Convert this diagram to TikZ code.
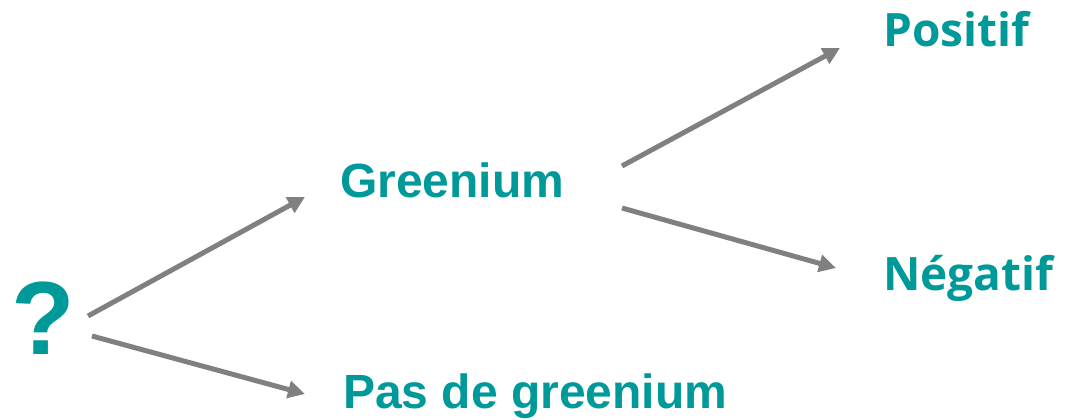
\documentclass[tikz,border=0pt]{standalone}
\usepackage{fontspec}
\setmainfont{Liberation Sans}
\newfontfamily\labfont{Open Sans}
\usetikzlibrary{arrows.meta}
\definecolor{teal}{RGB}{0,153,153}
\definecolor{arrgray}{RGB}{128,128,128}
\tikzset{
  lab/.style={inner sep=0pt, anchor=base west, text=teal, font=\fontsize{48}{52}\selectfont\bfseries},
  res/.style={inner sep=0pt, anchor=base west, text=teal, font=\labfont\fontsize{46}{50}\selectfont\bfseries},
  arr/.style={draw=arrgray, line width=5pt, -{Triangle[length=17pt,width=17pt]}}
}
\begin{document}
\begin{tikzpicture}[x=1pt,y=-1pt]
\useasboundingbox (0,0) rectangle (1081,420);
% labels
\node[lab, font=\fontsize{104}{108}\selectfont\bfseries] (q) at (11,354) {?};
\node[lab] (g) at (340,197) {Greenium};
\node[lab] (p) at (343,408) {Pas de greenium};
\node[res] (pos) at (883,47) {Positif};
\node[res] (neg) at (883,290) {Négatif};
% connector ends
\coordinate (q1) at (88,316);
\coordinate (q2) at (92,336);
\coordinate (g1) at (622,166);
\coordinate (g2) at (622,208);
\coordinate (gin) at (305,197);
\coordinate (pin) at (305,394);
\coordinate (posin) at (840,48);
\coordinate (negin) at (836,268);
% connectors
\draw[arr] (q1) -- (gin);
\draw[arr] (q2) -- (pin);
\draw[arr] (g1) -- (posin);
\draw[arr] (g2) -- (negin);
\end{tikzpicture}
\end{document}
